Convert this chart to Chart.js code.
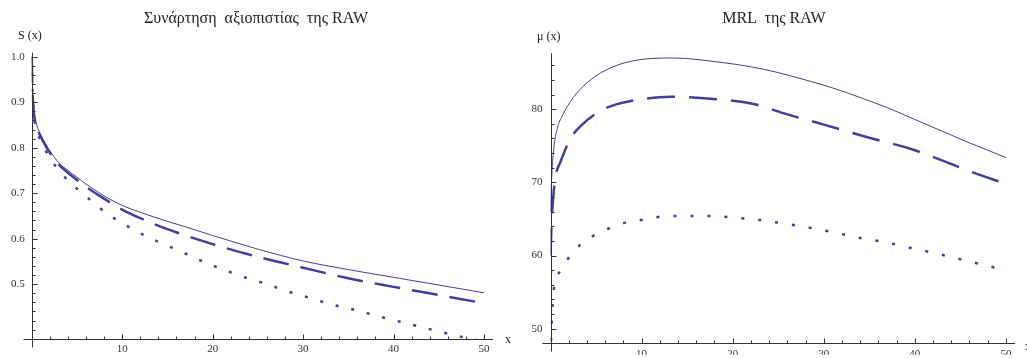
<!DOCTYPE html>
<html>
<head>
<meta charset="utf-8">
<script src="https://cdn.jsdelivr.net/npm/chart.js@4.4.0/dist/chart.umd.min.js"></script>
<style>
body { margin: 0; background: #fff; width: 1027px; height: 358px; overflow: hidden; position: relative; font-family: "Liberation Serif", serif; }
.box { position: absolute; top: 0; height: 358px; }
.lbl { position: absolute; white-space: pre; color: #222; line-height: 1; }
</style>
</head>
<body>
<div class="box" style="left:0;width:520px"><canvas id="c1" width="520" height="358"></canvas></div>
<div class="box" style="left:520px;width:507px"><canvas id="c2" width="507" height="358"></canvas></div>

<div class="lbl" style="left:256px;top:10px;font-size:16px;transform:translateX(-50%)">Συνάρτηση  αξιοπιστίας  της RAW</div>
<div class="lbl" style="left:18px;top:29px;font-size:12px">S (x)</div>
<div class="lbl" style="left:505px;top:333px;font-size:12px">x</div>

<div class="lbl" style="left:774px;top:10px;font-size:16px;transform:translateX(-50%)">MRL  της RAW</div>
<div class="lbl" style="left:537px;top:30px;font-size:12px">μ (x)</div>
<div class="lbl" style="left:1025px;top:340px;font-size:12px">x</div>

<script>
// ticks
var xMajor = [10, 20, 30, 40, 50];
var relMajor = [0.5, 0.6, 0.7, 0.8, 0.9, 1.0];
var mrlMajor = [50, 60, 70, 80];

// συνάρτηση αξιοπιστίας S(x)
var relSolidX = [0, 0.05, 0.2, 0.5, 1, 1.5, 2, 3, 4, 5, 6, 7, 8, 10, 12, 15, 17, 20, 25, 30, 35, 40, 45, 50];
var relSolidY = [1.0, 0.95, 0.89, 0.855, 0.828, 0.81, 0.793, 0.767, 0.75, 0.735, 0.72, 0.707, 0.694, 0.673, 0.658, 0.638, 0.626, 0.607, 0.577, 0.551, 0.532, 0.515, 0.498, 0.481];
var relDashX = [0, 0.05, 0.2, 0.5, 1, 2, 3, 4, 5, 6, 8, 10, 12, 15, 20, 25, 30, 35, 40, 45, 50];
var relDashY = [1.0, 0.945, 0.885, 0.85, 0.824, 0.789, 0.763, 0.745, 0.729, 0.714, 0.688, 0.664, 0.645, 0.621, 0.588, 0.56, 0.536, 0.513, 0.494, 0.476, 0.458];
var relDotX = [0, 0.05, 0.2, 0.5, 1, 2, 3, 4, 5, 6, 8, 10, 12, 14, 16, 18, 20, 22, 24, 26, 28, 30, 32, 34, 36, 38, 40, 42, 44, 46, 48, 50];
var relDotY = [1.0, 0.94, 0.88, 0.842, 0.815, 0.778, 0.75, 0.728, 0.71, 0.693, 0.66, 0.634, 0.612, 0.593, 0.576, 0.558, 0.541, 0.526, 0.512, 0.5, 0.486, 0.474, 0.462, 0.451, 0.442, 0.431, 0.421, 0.411, 0.401, 0.391, 0.382, 0.374];

// MRL μ(x)
var mrlSolidX = [0, 0.1, 0.36, 0.73, 1.3, 2.5, 4, 6, 9, 13.5, 18.7, 22, 25, 28, 31, 34, 37, 40, 43, 46, 48, 50];
var mrlSolidY = [66, 70, 74.6, 77.3, 79.1, 81.6, 83.6, 85.3, 86.6, 87.0, 86.4, 85.8, 85.0, 84.0, 82.9, 81.6, 80.2, 78.6, 77.0, 75.4, 74.4, 73.4];
var mrlDashX = [0, 0.1, 0.3, 0.55, 1.1, 2.2, 3.3, 5.5, 7.3, 10.2, 13.2, 17.9, 22.3, 26, 30, 35, 39.5, 43.4, 46.1, 50];
var mrlDashY = [60, 64, 68, 70.8, 72.8, 76, 77.7, 79.8, 80.7, 81.4, 81.7, 81.4, 80.7, 79.3, 77.9, 76.1, 74.6, 72.8, 71.5, 69.8];
var mrlDotX = [0, 0.1, 0.36, 1, 2, 3.2, 4.7, 6.4, 8.2, 10.1, 12, 14, 16, 18, 20, 22, 25, 28, 31, 34, 36, 38, 40, 42, 44, 46, 48, 49];
var mrlDotY = [46, 50, 55.4, 57.8, 59.7, 61.4, 62.7, 63.7, 64.5, 64.9, 65.3, 65.4, 65.4, 65.4, 65.2, 65.0, 64.5, 63.9, 63.2, 62.4, 62.0, 61.5, 60.9, 60.4, 59.8, 59.2, 58.6, 58.3];

var blue = '#3f3f9d';
var axisColor = '#333';
var tickFont = { family: 'Liberation Serif', size: 11 };

function pts(xs, ys) {
	return xs.map(function(x, i) { return { x: x, y: ys[i] }; });
}

function stepTicks(from, to, step) {
	var out = [];
	var n = Math.round((to - from) / step);
	for (var i = 0; i <= n; i++) {
		out.push({ value: +(from + i * step).toFixed(4) });
	}
	return out;
}

function isMajor(v, majors) {
	return majors.some(function(m) { return Math.abs(m - v) < 1e-6; });
}

// axes drawn like Mathematica: crossing, ticks pointing inward
var mmaAxes = {
	id: 'mmaAxes',
	afterDraw: function(chart, args, opts) {
		var ctx = chart.ctx;
		var xs = chart.scales.x, ys = chart.scales.y;
		var x0 = Math.round(xs.left) + 0.5, y0 = Math.round(ys.bottom) + 0.5;
		ctx.save();
		ctx.strokeStyle = axisColor;
		ctx.lineWidth = 1;
		ctx.beginPath();
		ctx.moveTo(x0 - 9, y0);
		ctx.lineTo(xs.right, y0);
		ctx.moveTo(x0, ys.top);
		ctx.lineTo(x0, y0 + 8);
		xs.ticks.forEach(function(t) {
			var p = Math.round(xs.getPixelForValue(t.value)) + 0.5;
			var len = isMajor(t.value, opts.xMajor) ? 5 : 3;
			ctx.moveTo(p, y0);
			ctx.lineTo(p, y0 - len);
		});
		ys.ticks.forEach(function(t) {
			var p = Math.round(ys.getPixelForValue(t.value)) + 0.5;
			var len = isMajor(t.value, opts.yMajor) ? 5 : 3;
			ctx.moveTo(x0, p);
			ctx.lineTo(x0 + len, p);
		});
		ctx.stroke();
		ctx.restore();
	}
};

function makeChart(id, series, cfg) {
	var ctx = document.getElementById(id).getContext('2d');
	return new Chart(ctx, {
		type: 'line',
		data: {
			datasets: series.map(function(s) {
				return {
					data: s.data,
					borderColor: blue,
					borderWidth: s.width,
					borderDash: s.dash,
					borderCapStyle: 'butt',
					pointRadius: 0,
					fill: false,
					cubicInterpolationMode: 'monotone'
				};
			})
		},
		options: {
			responsive: false,
			animation: false,
			layout: { padding: { left: 0, right: cfg.padRight, top: cfg.padTop, bottom: 0 } },
			plugins: {
				legend: { display: false },
				tooltip: { enabled: false },
				mmaAxes: { xMajor: xMajor, yMajor: cfg.yMajor }
			},
			scales: {
				x: {
					type: 'linear',
					min: 0,
					max: 51,
					grid: { display: false, drawTicks: false },
					border: { display: false },
					afterFit: function(s) { s.height = cfg.xHeight; },
					afterBuildTicks: function(s) { s.ticks = stepTicks(2, 50, 2); },
					ticks: {
						autoSkip: false,
						maxRotation: 0,
						padding: 4,
						color: axisColor,
						font: tickFont,
						callback: function(v) { return isMajor(v, xMajor) ? String(v) : ''; }
					}
				},
				y: {
					type: 'linear',
					min: cfg.yMin,
					max: cfg.yMax,
					grid: { display: false, drawTicks: false },
					border: { display: false },
					afterFit: function(s) { s.width = cfg.yWidth; },
					afterBuildTicks: function(s) { s.ticks = stepTicks(cfg.yFrom, cfg.yTo, cfg.yStep); },
					ticks: {
						autoSkip: false,
						padding: cfg.yPad,
						color: axisColor,
						font: tickFont,
						callback: function(v) { return isMajor(v, cfg.yMajor) ? cfg.fmt(v) : ''; }
					}
				}
			}
		},
		plugins: [mmaAxes]
	});
}

makeChart('c1', [
	{ data: pts(relSolidX, relSolidY), width: 1, dash: [] },
	{ data: pts(relDashX, relDashY), width: 2.5, dash: [26, 12] },
	{ data: pts(relDotX, relDotY), width: 2.5, dash: [3, 13] }
], {
	padRight: 27, padTop: 52.7, xHeight: 19.3, yWidth: 31.75, yPad: 7,
	yMin: 0.38, yMax: 1.009, yFrom: 0.4, yTo: 1.0, yStep: 0.02, yMajor: relMajor,
	fmt: function(v) { return v.toFixed(1); }
});

makeChart('c2', [
	{ data: pts(mrlSolidX, mrlSolidY), width: 1, dash: [] },
	{ data: pts(mrlDashX, mrlDashY), width: 2.5, dash: [28, 14] },
	{ data: pts(mrlDotX, mrlDotY), width: 2.5, dash: [3, 14] }
], {
	padRight: 12, padTop: 53.3, xHeight: 11.3, yWidth: 30.5, yPad: 8,
	yMin: 48, yMax: 87.64, yFrom: 50, yTo: 86, yStep: 2, yMajor: mrlMajor,
	fmt: function(v) { return String(v); }
});
</script>
</body>
</html>
